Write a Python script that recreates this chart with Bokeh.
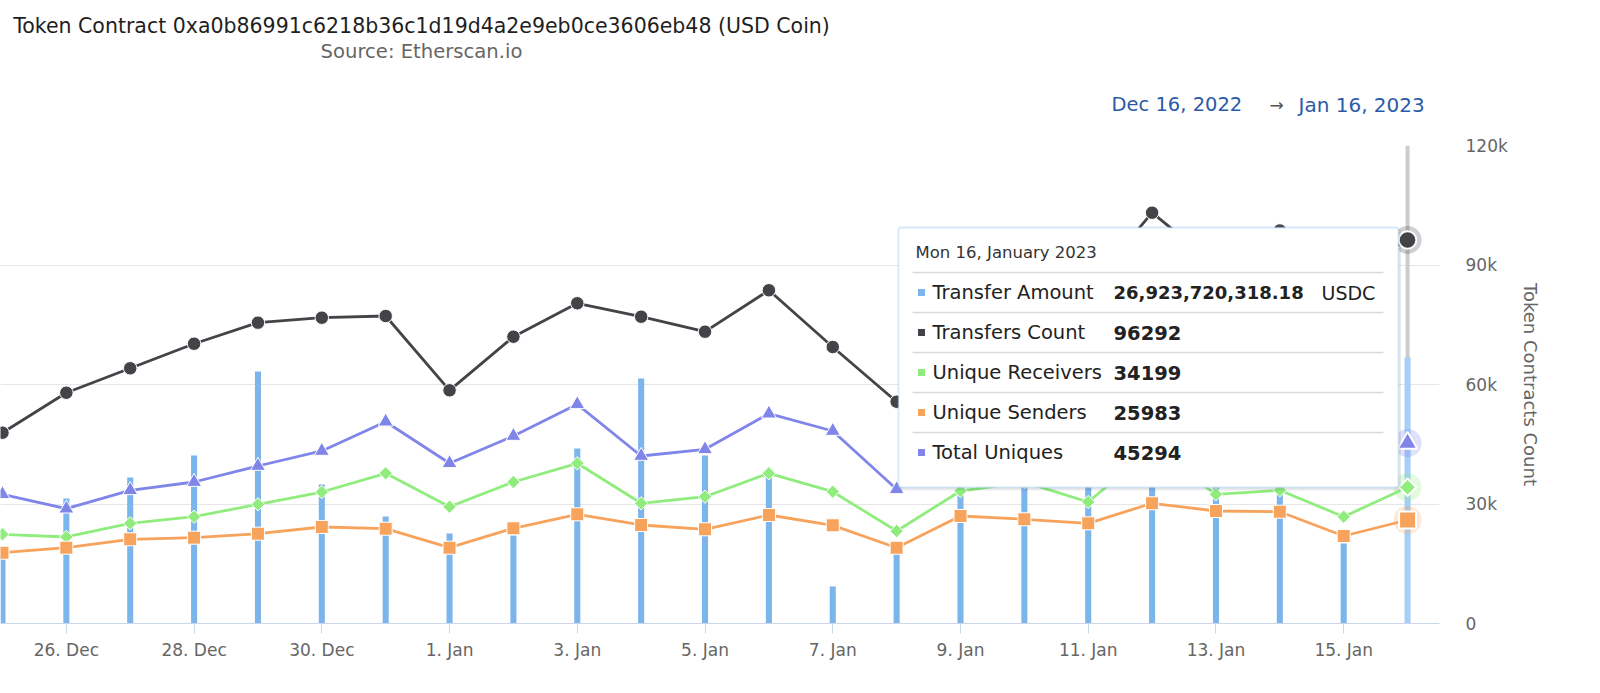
import datetime as dt
import numpy as np
from bokeh.plotting import figure
from bokeh.layouts import column
from bokeh.models import Range1d, FixedTicker, BoxAnnotation, Label, Span, ColumnDataSource
from bokeh.embed import file_html
from bokeh.resources import INLINE

# ---------------- data ----------------
dates = ["2022-12-25", "2022-12-26", "2022-12-27", "2022-12-28", "2022-12-29", "2022-12-30",
         "2022-12-31", "2023-01-01", "2023-01-02", "2023-01-03", "2023-01-04", "2023-01-05",
         "2023-01-06", "2023-01-07", "2023-01-08", "2023-01-09", "2023-01-10", "2023-01-11",
         "2023-01-12", "2023-01-13", "2023-01-14", "2023-01-15", "2023-01-16"]
transfer_amount = [6.89e9, 12.66e9, 14.78e9, 17.01e9, 25.52e9, 14.08e9, 10.83e9, 9.11e9,
                   8.91e9, 17.72e9, 24.81e9, 17.01e9, 15.49e9, 3.75e9, 7.19e9, 19.5e9,
                   18.0e9, 15.5e9, 21.0e9, 17.0e9, 18.5e9, 8.10e9, 26923720318.18]
transfers_count = [47900, 57940, 64070, 70240, 75520, 76770, 77200, 58540, 72000, 80390,
                   77020, 73260, 83650, 69420, 55680, 82000, 88000, 84000, 103130, 90000,
                   98660, 88000, 96292]
unique_receivers = [22390, 21720, 25150, 26810, 29920, 33010, 37710, 29320, 35520, 40220,
                    30180, 31830, 37710, 33090, 23220, 33260, 35500, 30500, 44000, 32440,
                    33440, 26810, 34199]
unique_senders = [17770, 19030, 21140, 21540, 22540, 24230, 23800, 19030, 23900, 27410,
                  24730, 23650, 27240, 24650, 19030, 26990, 26160, 25150, 30180, 28240,
                  28070, 21970, 25983]
total_uniques = [32440, 28820, 33440, 35520, 39540, 43310, 50660, 40220, 47070, 55030,
                 42050, 43730, 52670, 48330, 33690, 44500, 47000, 41500, 57000, 44000,
                 45000, 36500, 45294]
x_tick_labels = ["26. Dec", "28. Dec", "30. Dec", "1. Jan", "3. Jan", "5. Jan", "7. Jan",
                 "9. Jan", "11. Jan", "13. Jan", "15. Jan"]
y_tick_values = [0, 30000, 60000, 90000, 120000]
y_tick_labels = ["0", "30k", "60k", "90k", "120k"]
series_names = ["Transfer Amount", "Transfers Count", "Unique Receivers", "Unique Senders", "Total Uniques"]
series_colors = ["#7cb5ec", "#434348", "#90ed7d", "#f7a35c", "#8085e9"]
title_text = "Token Contract 0xa0b86991c6218b36c1d19d4a2e9eb0ce3606eb48 (USD Coin)"
subtitle_text = "Source: Etherscan.io"
range_start = "Dec 16, 2022"
range_end = "Jan 16, 2023"

FONT = "DejaVu Sans"
W, H = 1600, 693
HEAD = 135            # height of the heading strip
TOP, BOTTOM = 145, 623  # frame edges in page pixels

# ---------------- heading strip ----------------
head = figure(width=W, height=HEAD, output_backend="svg", toolbar_location=None,
              x_range=Range1d(0, W), y_range=Range1d(0, HEAD),
              min_border=0, min_border_left=0, min_border_right=0,
              min_border_top=0, min_border_bottom=0)
head.axis.visible = False
head.grid.visible = False
head.outline_line_color = None
head.border_fill_color = "white"


def hy(y):
    return HEAD - y


def head_label(x, y, text, size, color, align="left"):
    head.add_layout(Label(x=x, y=hy(y), x_units="screen", y_units="screen", text=text,
                          text_align=align, text_baseline="middle", text_font=FONT,
                          text_font_size=size, text_color=color))


head_label(421, 25, title_text, "20.5px", "#1f1f1f", "center")
head_label(421, 51, subtitle_text, "19.6px", "#666666", "center")
head_label(1111, 104, range_start, "19.5px", "#2b5aa8")
head_label(1276, 104, "→", "17px", "#555555", "center")
head_label(1298, 104, range_end, "20px", "#2b5aa8")

# ---------------- main chart ----------------
def fy(y):
    return BOTTOM - y


idx = list(range(len(dates)))
src = ColumnDataSource(dict(x=idx, amount=transfer_amount, count=transfers_count,
                            recv=unique_receivers, send=unique_senders, tot=total_uniques))

p = figure(width=W, height=H - HEAD, output_backend="svg", toolbar_location=None,
           x_range=Range1d(-0.031, 22.5), y_range=Range1d(0, 120000),
           y_axis_location="right", min_border_left=0, min_border_right=W - 1439,
           min_border_top=TOP - HEAD, min_border_bottom=H - BOTTOM)
p.outline_line_color = None
p.background_fill_color = "white"
p.border_fill_color = "white"
p.extra_y_ranges = {"amount": Range1d(0, 48.4e9)}

# axes
p.xaxis.ticker = FixedTicker(ticks=idx[1::2])
p.xaxis.major_label_overrides = {i: lab for i, lab in zip(idx[1::2], x_tick_labels)}
p.xaxis.axis_line_color = "#ccd6eb"
p.xaxis.major_tick_line_color = "#ccd6eb"
p.xaxis.major_tick_out = 10
p.xaxis.major_tick_in = 0
p.xaxis.minor_tick_line_color = None
p.xaxis.major_label_text_font = FONT
p.xaxis.major_label_text_font_size = "17px"
p.xaxis.major_label_text_color = "#666666"
p.xaxis.major_label_standoff = 6
p.xgrid.grid_line_color = None

p.yaxis.ticker = FixedTicker(ticks=y_tick_values)
p.yaxis.major_label_overrides = {v: lab for v, lab in zip(y_tick_values, y_tick_labels)}
p.yaxis.axis_line_color = None
p.yaxis.major_tick_line_color = None
p.yaxis.minor_tick_line_color = None
p.yaxis.major_label_text_font = FONT
p.yaxis.major_label_text_font_size = "17px"
p.yaxis.major_label_text_color = "#666666"
p.yaxis.major_label_standoff = 20
p.yaxis.axis_label = "Token Contracts Count"
p.yaxis.axis_label_text_font = FONT
p.yaxis.axis_label_text_font_size = "18px"
p.yaxis.axis_label_text_font_style = "normal"
p.yaxis.axis_label_text_color = "#666666"
p.yaxis.axis_label_standoff = 9
p.ygrid.grid_line_color = "#e6e6e6"
p.ygrid.grid_line_width = 1

# crosshair
p.add_layout(Span(location=idx[-1], dimension="height", line_color="#cccccc",
                  line_width=4, level="underlay"))

# bars
bar_colors = [series_colors[0]] * (len(idx) - 1) + ["#a6cff7"]
src.data["bar_color"] = bar_colors
p.vbar(x="x", top="amount", bottom=0, width=0.095, source=src, y_range_name="amount",
       fill_color="bar_color", line_color=None)

# lines
line_specs = [("count", series_colors[1], "circle", 13.5, 0),
              ("recv", series_colors[2], "square", 9.5, np.pi / 4),
              ("send", series_colors[3], "square", 13, 0),
              ("tot", series_colors[4], "triangle", 15, 0)]
for col, color, marker, size, ang in line_specs:
    p.line("x", col, source=src, line_color=color, line_width=2.8)
for col, color, marker, size, ang in line_specs:
    p.scatter("x", col, source=src, marker=marker, size=size, angle=ang,
              fill_color=color, line_color="white", line_width=1)

# hover state at last point
last = ColumnDataSource(dict(x=[idx[-1]], count=[transfers_count[-1]], recv=[unique_receivers[-1]],
                             send=[unique_senders[-1]], tot=[total_uniques[-1]]))
for col, color, marker, size, ang in line_specs:
    p.scatter("x", col, source=last, marker="circle", size=28, fill_color=color,
              fill_alpha=0.25, line_color=None)
    p.scatter("x", col, source=last, marker=marker, size=size * 1.3, angle=ang,
              fill_color=color, line_color="white", line_width=2)

# tooltip
TL, TR, TT, TB = 898, 1398, 227, 487
p.add_layout(BoxAnnotation(left=TL + 2, right=TR + 2.5, top=fy(TT + 2), bottom=fy(TB + 3),
                           left_units="screen", right_units="screen", top_units="screen",
                           bottom_units="screen", fill_color="black", fill_alpha=0.08,
                           line_color=None, level="overlay"))
p.add_layout(BoxAnnotation(left=TL, right=TR, top=fy(TT), bottom=fy(TB),
                           left_units="screen", right_units="screen", top_units="screen",
                           bottom_units="screen", fill_color="white", fill_alpha=1,
                           line_color="#7cb5ec", line_width=1.8, border_radius=3, level="overlay"))
last_date = dt.datetime.strptime(dates[-1], "%Y-%m-%d")
header = last_date.strftime("%a %d, %B %Y")
p.add_layout(Label(x=915, y=fy(252), x_units="screen", y_units="screen", text=header,
                   text_align="left", text_baseline="middle", text_font=FONT,
                   text_font_size="16.5px", text_color="#333333", level="overlay"))
for sep_y in [272, 312, 352, 392, 432]:
    p.add_layout(BoxAnnotation(left=912, right=1383, top=fy(sep_y - 0.7), bottom=fy(sep_y + 0.7),
                               left_units="screen", right_units="screen", top_units="screen",
                               bottom_units="screen", fill_color="#d9d9d9", fill_alpha=1,
                               line_color=None, level="overlay"))
values = [f"{transfer_amount[-1]:,.2f}", str(transfers_count[-1]), str(unique_receivers[-1]),
          str(unique_senders[-1]), str(total_uniques[-1])]
for k, (name, color, val) in enumerate(zip(series_names, series_colors, values)):
    cy = 292 + 40 * k
    p.add_layout(BoxAnnotation(left=917.5, right=924.5, top=fy(cy - 3.5), bottom=fy(cy + 3.5),
                               left_units="screen", right_units="screen", top_units="screen",
                               bottom_units="screen", fill_color=color, fill_alpha=1,
                               line_color=None, level="overlay"))
    p.add_layout(Label(x=932, y=fy(cy), x_units="screen", y_units="screen", text=name,
                       text_align="left", text_baseline="middle", text_font=FONT,
                       text_font_size="19.5px", text_color="#222222", level="overlay"))
    p.add_layout(Label(x=1113, y=fy(cy), x_units="screen", y_units="screen", text=val,
                       text_align="left", text_baseline="middle", text_font=FONT,
                       text_font_size="18px" if k == 0 else "19.5px", text_font_style="bold",
                       text_color="#222222", level="overlay"))
p.add_layout(Label(x=1321, y=fy(292), x_units="screen", y_units="screen", text="USDC",
                   text_align="left", text_baseline="middle", text_font=FONT,
                   text_font_size="19px", text_color="#222222", level="overlay"))

layout = column(head, p, spacing=0)
open("out.html", "w").write(file_html(layout, INLINE))
